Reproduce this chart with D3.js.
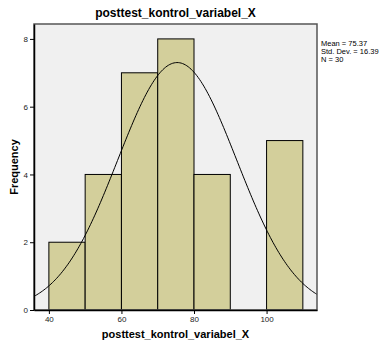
<!DOCTYPE html>
<html>
<head>
<meta charset="utf-8">
<script src="https://cdn.jsdelivr.net/npm/d3@7"></script>
<style>
  body { margin: 0; background: #fff; }
  text { font-family: Arial, "Liberation Sans", sans-serif; }
</style>
</head>
<body>
<div id="chart-area"></div>
<script>
// histogram data
var binStarts = [40, 50, 60, 70, 80, 90, 100];
var binWidth = 10;
var counts = [2, 4, 7, 8, 4, 0, 5];
var xTicks = [40, 60, 80, 100];
var yTicks = [0, 2, 4, 6, 8];
var stats = ['Mean = 75.37', 'Std. Dev. = 16.39', 'N = 30'];
var mean = 75.37, sd = 16.39, n = 30;

var margin = {left: 34, right: 62, top: 24, bottom: 30};
var width = 379 - margin.left - margin.right;
var height = 340 - margin.top - margin.bottom;

var svg = d3.select('#chart-area')
  .append('svg')
  .attr('width', 379)
  .attr('height', 340);

var g = svg.append('g')
  .attr('transform', 'translate(' + margin.left + ', ' + margin.top + ')');

var x = d3.scaleLinear().domain([35.9, 113.9]).range([0, width]);
var y = d3.scaleLinear().domain([0, 8.44]).range([height, 0]);

// plot background
g.append('rect')
  .attr('width', width)
  .attr('height', height)
  .attr('fill', '#f0f0f0');

// bars
g.selectAll('.bar')
  .data(binStarts.map(function (d, i) { return {x0: d, n: counts[i]}; })
    .filter(function (d) { return d.n > 0; }))
  .enter()
  .append('rect')
  .attr('class', 'bar')
  .attr('x', function (d) { return x(d.x0); })
  .attr('y', function (d) { return y(d.n); })
  .attr('width', function (d) { return x(d.x0 + binWidth) - x(d.x0); })
  .attr('height', function (d) { return height - y(d.n); })
  .attr('fill', '#d3cf9b')
  .attr('stroke', '#000')
  .attr('stroke-width', 1);

// normal curve from mean / sd
var pts = d3.range(0, 201).map(function (i) {
  var v = 35.9 + (113.9 - 35.9) * i / 200;
  var z = (v - mean) / sd;
  return [v, n * binWidth * Math.exp(-0.5 * z * z) / (sd * Math.sqrt(2 * Math.PI))];
});
g.append('path')
  .datum(pts)
  .attr('fill', 'none')
  .attr('stroke', '#000')
  .attr('stroke-width', 1)
  .attr('d', d3.line()
    .x(function (d) { return x(d[0]); })
    .y(function (d) { return y(d[1]); }));

// frame
g.append('rect')
  .attr('width', width)
  .attr('height', height)
  .attr('fill', 'none')
  .attr('stroke', '#555')
  .attr('stroke-width', 1.5);

// axes
var xAxis = g.append('g')
  .attr('transform', 'translate(0, ' + height + ')')
  .call(d3.axisBottom(x).tickValues(xTicks).tickSize(4).tickSizeOuter(0));
var yAxis = g.append('g')
  .call(d3.axisLeft(y).tickValues(yTicks).tickSize(4).tickSizeOuter(0));
[xAxis, yAxis].forEach(function (a) {
  a.select('.domain').attr('stroke', '#000').attr('stroke-width', 1.5);
  a.selectAll('text').attr('font-size', '8px').attr('fill', '#222');
  a.selectAll('line').attr('stroke', '#000');
});
xAxis.selectAll('text').attr('dy', '0.6em');
yAxis.selectAll('text').attr('dx', '1px');

// title
svg.append('text')
  .attr('x', margin.left + width / 2)
  .attr('y', 17)
  .attr('text-anchor', 'middle')
  .attr('font-size', '12px')
  .attr('font-weight', 'bold')
  .text('posttest_kontrol_variabel_X');

// x label
svg.append('text')
  .attr('x', margin.left + width / 2)
  .attr('y', 338)
  .attr('text-anchor', 'middle')
  .attr('font-size', '11px')
  .attr('font-weight', 'bold')
  .text('posttest_kontrol_variabel_X');

// y label
svg.append('text')
  .attr('transform', 'translate(18, ' + (margin.top + height / 2) + ') rotate(-90)')
  .attr('text-anchor', 'middle')
  .attr('font-size', '11px')
  .attr('font-weight', 'bold')
  .text('Frequency');

// stats box
svg.selectAll('.stat')
  .data(stats)
  .enter()
  .append('text')
  .attr('class', 'stat')
  .attr('x', 321)
  .attr('y', function (d, i) { return 46 + i * 8; })
  .attr('font-size', '7.5px')
  .text(function (d) { return d; });
</script>
</body>
</html>
